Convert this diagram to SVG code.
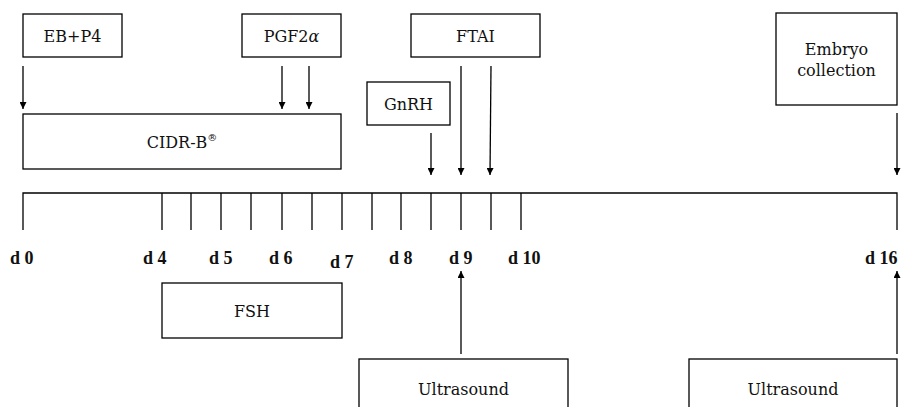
<svg xmlns="http://www.w3.org/2000/svg" width="915" height="407" viewBox="0 0 915 407">
<defs>
<marker id="ah" viewBox="0 0 10 10" refX="10" refY="5" markerWidth="7" markerHeight="7" markerUnits="userSpaceOnUse" orient="auto">
<path d="M0,0 L10,5 L0,10 z" fill="#000"/>
</marker>
</defs>
<style>
.box{fill:#fff;stroke:#000;stroke-width:1.3}
.t{font-family:'DejaVu Serif','Liberation Serif',serif;font-size:16px;fill:#111;text-anchor:middle}
.d{font-family:'Liberation Serif','DejaVu Serif',serif;font-size:18px;font-weight:bold;fill:#111}
.ln{stroke:#000;stroke-width:1.3;fill:none}
.ar{stroke:#000;stroke-width:1.3;fill:none;marker-end:url(#ah)}
</style>
<rect width="915" height="407" fill="#fff"/>
<g id="ebp4"><rect class="box" x="23" y="14" width="99" height="43"/><text class="t" x="72.5" y="42">EB+P4</text></g>
<g id="pgf"><rect class="box" x="242" y="14" width="99" height="43"/><text class="t" x="291.5" y="42">PGF2<tspan font-style="italic">α</tspan></text></g>
<g id="ftai"><rect class="box" x="411" y="14" width="129" height="43"/><text class="t" x="475.5" y="42">FTAI</text></g>
<g id="gnrh"><rect class="box" x="367" y="82" width="83" height="43"/><text class="t" x="408.5" y="110">GnRH</text></g>
<g id="embryo"><rect class="box" x="776" y="13" width="121" height="92"/><text class="t" x="836.5" y="55">Embryo</text><text class="t" x="836.5" y="76">collection</text></g>
<g id="cidr"><rect class="box" x="23" y="114" width="318" height="55"/><text class="t" x="182" y="148">CIDR-B<tspan font-size="10" dy="-7" fill="#111">®</tspan></text></g>
<g id="fsh"><rect class="box" x="162" y="283" width="180" height="55"/><text class="t" x="252" y="317">FSH</text></g>
<g id="us1"><rect class="box" x="359" y="359" width="209" height="60"/><text class="t" x="463.5" y="395">Ultrasound</text></g>
<g id="us2"><rect class="box" x="689" y="359" width="208" height="60"/><text class="t" x="793" y="395">Ultrasound</text></g>
<g id="timeline">
<path class="ln" d="M23,230 V193 H897 V230"/>
<path class="ln" d="M162,193V230 M191,193V230 M221,193V230 M251,193V230 M282,193V230 M312,193V230 M342,193V230 M372,193V230 M401,193V230 M431,193V230 M461,193V230 M491,193V230 M521,193V230"/>
<text class="d" x="10" y="264">d 0</text>
<text class="d" x="143" y="264">d 4</text>
<text class="d" x="209" y="264">d 5</text>
<text class="d" x="269" y="264">d 6</text>
<text class="d" x="330" y="268">d 7</text>
<text class="d" x="389" y="264">d 8</text>
<text class="d" x="449" y="264">d 9</text>
<text class="d" x="508" y="264">d 10</text>
<text class="d" x="865" y="264">d 16</text>
</g>
<g id="connectors">
<line class="ar" x1="23" y1="66" x2="23" y2="109"/>
<line class="ar" x1="282" y1="66" x2="282" y2="109"/>
<line class="ar" x1="309" y1="66" x2="309" y2="109"/>
<line class="ar" x1="431" y1="133" x2="431" y2="175"/>
<line class="ar" x1="461" y1="66" x2="461" y2="175"/>
<line class="ar" x1="491" y1="66" x2="490" y2="175"/>
<line class="ar" x1="897" y1="113" x2="897" y2="175"/>
<line class="ar" x1="461" y1="354" x2="461" y2="271"/>
<line class="ar" x1="897" y1="354" x2="897" y2="271"/>
</g>
</svg>
